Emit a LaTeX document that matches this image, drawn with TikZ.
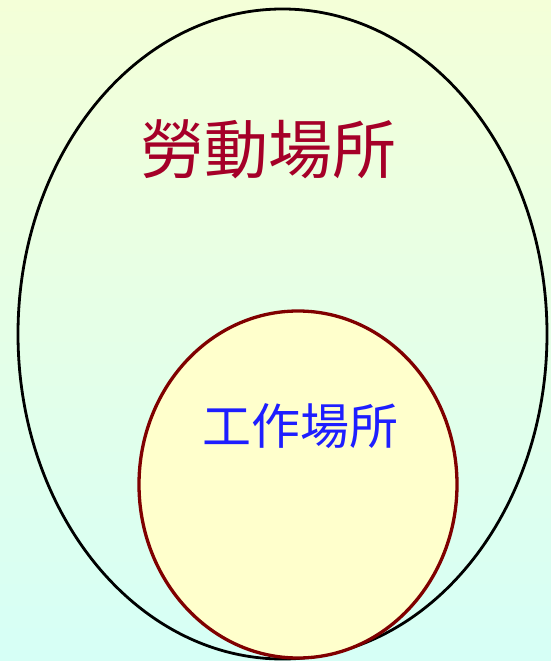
\documentclass[tikz,border=0pt]{standalone}
\usepackage{fontspec}
\newfontfamily\cjk{Noto Sans CJK TC}
\definecolor{bgtop}{RGB}{244,255,216}
\definecolor{bgbot}{RGB}{214,255,246}
\definecolor{innerfill}{RGB}{255,255,204}
\definecolor{innerline}{RGB}{128,0,0}
\definecolor{redtext}{RGB}{165,0,40}
\definecolor{bluetext}{RGB}{30,30,255}
\tikzset{
  outerell/.style={draw=black, line width=2.8pt},
  innerell/.style={draw=innerline, fill=innerfill, line width=3.3pt},
  bigtext/.style={font=\cjk\fontsize{64}{64}\selectfont, text=redtext, inner sep=0pt},
  smalltext/.style={font=\cjk\fontsize{49}{49}\selectfont, text=bluetext, inner sep=0pt}
}
\begin{document}
\begin{tikzpicture}[x=1pt,y=-1pt]
\useasboundingbox (0,0) rectangle (551,661);
\shade[top color=bgtop, bottom color=bgbot] (0,0) rectangle (551,661);
\draw[outerell] (282.5,334) ellipse [x radius=264.5, y radius=325];
\draw[innerell] (298,484.5) ellipse [x radius=159, y radius=173.5];
\node[bigtext] (labor) at (268,149) {勞動場所};
\node[smalltext] (work) at (300,426) {工作場所};
\end{tikzpicture}
\end{document}
